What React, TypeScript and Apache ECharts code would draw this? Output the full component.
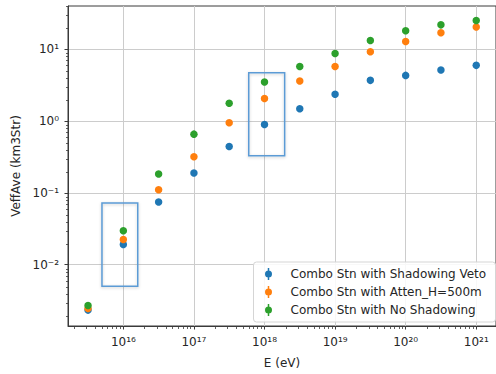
import React, { useEffect, useRef } from "react";
import * as echarts from "echarts";

// ---- data ----
const energies = [3.16e15, 1e16, 3.16e16, 1e17, 3.16e17, 1e18, 3.16e18, 1e19, 3.16e19, 1e20, 3.16e20, 1e21];
const shadowingVeto = [0.00233, 0.0192, 0.075, 0.19, 0.445, 0.9, 1.49, 2.37, 3.71, 4.35, 5.17, 6.0];
const attenH500 = [0.00245, 0.0225, 0.111, 0.32, 0.95, 2.07, 3.64, 5.8, 9.3, 12.9, 17.1, 20.5];
const noShadowing = [0.0027, 0.0297, 0.184, 0.66, 1.78, 3.52, 5.8, 8.8, 13.3, 18.2, 22.0, 25.3];

const seriesNames = [
  "Combo Stn with Shadowing Veto",
  "Combo Stn with Atten_H=500m",
  "Combo Stn with No Shadowing",
];
const seriesColors = ["#1f77b4", "#ff7f0e", "#2ca02c"];

const xMajorTicks = [1e16, 1e17, 1e18, 1e19, 1e20, 1e21];
const yMajorTicks = [1e-2, 1e-1, 1, 10];
const xRange = [1.644e15, 1.905e21];
const yRange = [1.4e-3, 40.3];

// highlighted boxes: [xFrom, yFrom, xTo, yTo]
const boxA = [4.98e15, 5.0e-3, 1.6e16, 0.0726];
const boxB = [5.98e17, 0.33, 1.93e18, 4.75];

const minorTicks = (lo: number, hi: number) => {
  const out: number[] = [];
  for (let e = Math.floor(Math.log10(lo)); e <= Math.ceil(Math.log10(hi)); e++) {
    for (let m = 2; m <= 9; m++) {
      const v = m * Math.pow(10, e);
      if (v >= lo && v <= hi) out.push(v);
    }
  }
  return out;
};

const SUP: Record<string, string> = {
  "0": "\u2070", "1": "\u00b9", "2": "\u00b2", "3": "\u00b3", "4": "\u2074",
  "5": "\u2075", "6": "\u2076", "7": "\u2077", "8": "\u2078", "9": "\u2079", "-": "\u207b",
};
const powLabel = (v: number) => {
  const e = String(Math.round(Math.log10(v)));
  return "10" + e.split("").map((c) => SUP[c] || c).join("");
};

const FONT = "DejaVu Sans";
const TEXT = "#262626";
const SPINE = "#3a3a3a";
const GRIDC = "#cccccc";

const legendIcon =
  "path://M5.25,0 L6.75,0 L6.75,12 L5.25,12 Z M2.5,6 A3.5,3.5 0 1 1 9.5,6 A3.5,3.5 0 1 1 2.5,6 Z";

export default function App() {
  const ref = useRef<HTMLDivElement>(null);
  useEffect(() => {
    if (!ref.current) return;
    const chart = echarts.init(ref.current, null, { renderer: "svg" });
    const gridRect = { left: 68, top: 6, width: 433, height: 321 };
    const dataSets = [shadowingVeto, attenH500, noShadowing];
    const series: any[] = dataSets.map((vals, i) => ({
      name: seriesNames[i],
      type: "scatter",
      xAxisIndex: 0,
      yAxisIndex: 0,
      symbol: "circle",
      symbolSize: 7.5,
      itemStyle: { color: seriesColors[i], opacity: 1 },
      data: energies.map((x, k) => [x, vals[k]]),
      z: 3 + i,
    }));
    series[0].markArea = {
      silent: true,
      itemStyle: {
        color: "rgba(0,0,0,0)",
        borderColor: "#5b9bd5",
        borderWidth: 1.5,
        shadowBlur: 3,
        shadowColor: "rgba(0,0,0,0.2)",
        shadowOffsetY: 1,
      },
      label: { show: false },
      data: [
        [{ coord: [boxA[0], boxA[3]] }, { coord: [boxA[2], boxA[1]] }],
        [{ coord: [boxB[0], boxB[3]] }, { coord: [boxB[2], boxB[1]] }],
      ],
    };

    const option: any = {
      animation: false,
      textStyle: { fontFamily: FONT },
      grid: [
        { ...gridRect, show: true, borderColor: SPINE, borderWidth: 1, backgroundColor: "transparent" },
        { ...gridRect },
      ],
      xAxis: [
        {
          type: "log",
          gridIndex: 0,
          min: xRange[0],
          max: xRange[1],
          logBase: 10,
          name: "E (eV)",
          nameLocation: "middle",
          nameGap: 31,
          nameTextStyle: { color: TEXT, fontSize: 12, fontFamily: FONT },
          axisLine: { show: true, lineStyle: { color: SPINE, width: 1 } },
          axisTick: { show: true, length: 3.5, customValues: xMajorTicks, lineStyle: { color: SPINE, width: 1 } },
          axisLabel: {
            customValues: xMajorTicks,
            formatter: (v: number) => powLabel(v),
            color: TEXT,
            fontSize: 12,
            fontFamily: FONT,
            margin: 10,
          },
          splitLine: { show: true, lineStyle: { color: GRIDC, width: 1 } },
        },
        {
          type: "log",
          gridIndex: 1,
          min: xRange[0],
          max: xRange[1],
          axisLine: { show: false },
          axisTick: { show: true, length: 2, customValues: minorTicks(xRange[0], xRange[1]), lineStyle: { color: SPINE, width: 0.8 } },
          axisLabel: { show: false },
          splitLine: { show: false },
        },
      ],
      yAxis: [
        {
          type: "log",
          gridIndex: 0,
          min: yRange[0],
          max: yRange[1],
          name: "VeffAve (km3Str)",
          nameLocation: "middle",
          nameGap: 43,
          nameTextStyle: { color: TEXT, fontSize: 12, fontFamily: FONT },
          axisLine: { show: true, lineStyle: { color: SPINE, width: 1 } },
          axisTick: { show: true, length: 3.5, customValues: yMajorTicks, lineStyle: { color: SPINE, width: 1 } },
          axisLabel: {
            customValues: yMajorTicks,
            formatter: (v: number) => powLabel(v),
            color: TEXT,
            fontSize: 12,
            fontFamily: FONT,
            margin: 9,
          },
          splitLine: { show: true, lineStyle: { color: GRIDC, width: 1 } },
        },
        {
          type: "log",
          gridIndex: 1,
          min: yRange[0],
          max: yRange[1],
          axisLine: { show: false },
          axisTick: { show: true, length: 2, customValues: minorTicks(yRange[0], yRange[1]), lineStyle: { color: SPINE, width: 0.8 } },
          axisLabel: { show: false },
          splitLine: { show: false },
        },
      ],
      legend: {
        orient: "vertical",
        left: 265,
        top: 268,
        padding: 0,
        itemWidth: 34,
        itemHeight: 12,
        itemGap: 6,
        icon: legendIcon,
        z: 20,
        textStyle: { color: TEXT, fontSize: 12, fontFamily: FONT, lineHeight: 12 },
        data: seriesNames,
      },
      graphic: [
        {
          type: "rect",
          z: 15,
          shape: { x: 253.5, y: 262, width: 242, height: 60, r: 3 },
          style: { fill: "rgba(255,255,255,0.85)", stroke: "#d5d5d5", lineWidth: 1 },
        },
      ],
      series,
    };
    chart.setOption(option);
    return () => chart.dispose();
  }, []);
  return (
    <div
      ref={ref}
      style={{ position: "absolute", left: 0, top: 0, width: 496, height: 374, overflow: "hidden", background: "#fff" }}
    />
  );
}
